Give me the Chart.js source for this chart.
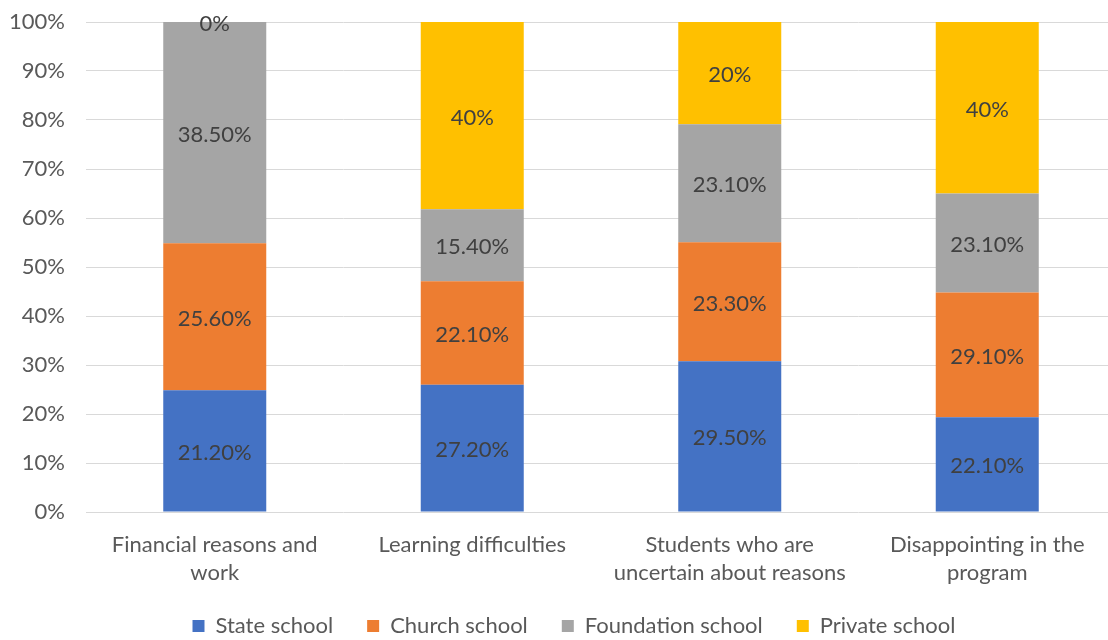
<!DOCTYPE html>
<html>
<head>
<meta charset="utf-8">
<script src="https://cdn.jsdelivr.net/npm/chart.js@4.4.0/dist/chart.umd.min.js"></script>
<style>
  html, body { margin: 0; padding: 0; background: #fff; overflow: hidden; }
  #wrap { width: 1125px; height: 655px; }
</style>
</head>
<body>
<div id="wrap"><canvas id="chart"></canvas></div>
<script>
const categories = [
  ['Financial reasons and', 'work'],
  ['Learning difficulties'],
  ['Students who are', 'uncertain about reasons'],
  ['Disappointing in the', 'program']
];
const stateSchool = [21.2, 27.2, 29.5, 22.1];
const churchSchool = [25.6, 22.1, 23.3, 29.1];
const foundationSchool = [38.5, 15.4, 23.1, 23.1];
const privateSchool = [0, 40, 20, 40];
const stateLabels = ['21.20%', '27.20%', '29.50%', '22.10%'];
const churchLabels = ['25.60%', '22.10%', '23.30%', '29.10%'];
const foundationLabels = ['38.50%', '15.40%', '23.10%', '23.10%'];
const privateLabels = ['0%', '40%', '20%', '40%'];
const yTicks = [0, 10, 20, 30, 40, 50, 60, 70, 80, 90, 100];

const FONT = 'Lato, "Open Sans", sans-serif';

// 100% stacked: each column share of its total
const totals = stateSchool.map((v, i) => v + churchSchool[i] + foundationSchool[i] + privateSchool[i]);
const share = arr => arr.map((v, i) => v / totals[i] * 100);

const series = [
  { label: 'State school', values: stateSchool, texts: stateLabels, color: '#4472c4' },
  { label: 'Church school', values: churchSchool, texts: churchLabels, color: '#ed7d31' },
  { label: 'Foundation school', values: foundationSchool, texts: foundationLabels, color: '#a5a5a5' },
  { label: 'Private school', values: privateSchool, texts: privateLabels, color: '#ffc000' }
];

const barText = {
  id: 'barText',
  afterDatasetsDraw(chart) {
    const ctx = chart.ctx;
    ctx.save();
    ctx.font = '22px ' + FONT;
    ctx.fillStyle = '#404040';
    ctx.textAlign = 'center';
    ctx.textBaseline = 'middle';
    chart.data.datasets.forEach((ds, di) => {
      chart.getDatasetMeta(di).data.forEach((bar, i) => {
        const y = (bar.y + bar.base) / 2;
        ctx.fillText(ds.texts[i], bar.x, y + 2);
      });
    });
    ctx.restore();
  }
};

// nudge the legend a bit right and up, like the original
const legendShift = {
  id: 'legendShift',
  afterLayout(chart) {
    chart.legend.left += 32;
    chart.legend.top -= 8;
  }
};

new Chart(document.getElementById('chart'), {
  type: 'bar',
  data: {
    labels: categories,
    datasets: series.map(s => ({
      label: s.label,
      data: share(s.values),
      texts: s.texts,
      backgroundColor: s.color,
      borderWidth: 0,
      categoryPercentage: 1,
      barPercentage: 0.4
    }))
  },
  options: {
    responsive: true,
    maintainAspectRatio: false,
    animation: false,
    layout: { autoPadding: false, padding: { top: 22, right: 9, left: 0, bottom: 0 } },
    scales: {
      x: {
        stacked: true,
        grid: { display: false, drawTicks: false },
        border: { display: false },
        afterFit: s => { s.height = 77; },
        ticks: { color: '#595959', font: { family: FONT, size: 22, lineHeight: 1.27 }, padding: 19, maxRotation: 0 }
      },
      y: {
        stacked: true,
        min: 0,
        max: 100,
        afterBuildTicks: s => { s.ticks = yTicks.map(v => ({ value: v })); },
        afterFit: s => { s.width = 86; s.paddingTop = 0; s.paddingBottom = 0; },
        grid: { color: '#d9d9d9', lineWidth: 1, drawTicks: false },
        border: { display: false },
        ticks: {
          color: '#595959',
          font: { family: FONT, size: 22 },
          padding: 21,
          callback: v => v + '%'
        }
      }
    },
    plugins: {
      legend: {
        position: 'bottom',
        labels: {
          color: '#595959',
          font: { family: FONT, size: 22 },
          boxWidth: 12,
          boxHeight: 12,
          padding: 34
        }
      },
      tooltip: { enabled: false }
    }
  },
  plugins: [barText, legendShift]
});
</script>
</body>
</html>
